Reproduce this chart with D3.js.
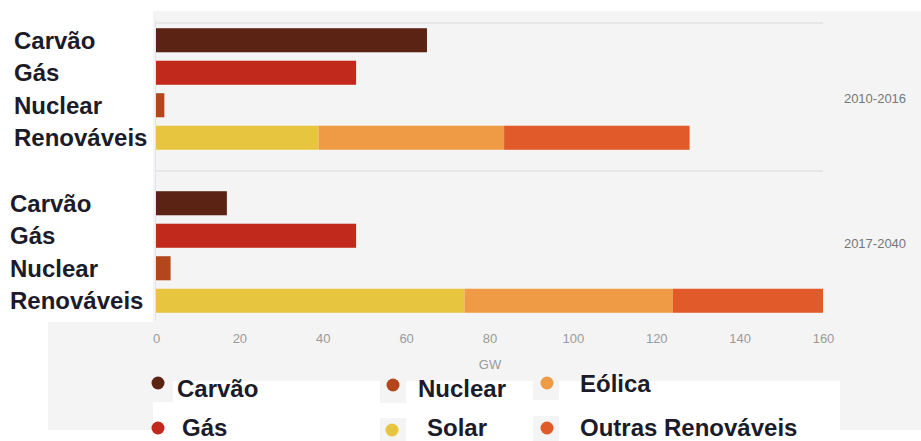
<!DOCTYPE html>
<html><head><meta charset="utf-8">
<script src="https://cdn.jsdelivr.net/npm/d3@7"></script>
<style>body{margin:0;background:#fff}svg{display:block}</style>
</head><body>
<svg id="c" width="921" height="441"></svg>
<script>
const periods = ["2010-2016", "2017-2040"];
const categories = ["Carvão", "Gás", "Nuclear", "Renováveis"];
const carvao = [65, 17];
const gas = [48, 48];
const nuclear = [2, 3.5];
const solar = [39, 74];
const eolica = [44.5, 50];
const outras = [44.5, 36];
const ticks = [0, 20, 40, 60, 80, 100, 120, 140, 160];
const legendNames = ["Carvão", "Gás", "Nuclear", "Solar", "Eólica", "Outras Renováveis"];
const colors = {
  "Carvão": "#5a2314", "Gás": "#c0291b", "Nuclear": "#b4461c",
  "Solar": "#e8c53f", "Eólica": "#ef9b46", "Outras Renováveis": "#e15a29"
};

const svg = d3.select("#c");
const labelFont = "'Liberation Sans', Arial, sans-serif";

// backgrounds
svg.append("rect").attr("x", 147).attr("y", 11).attr("width", 774).attr("height", 419).attr("fill", "#f4f4f4");
svg.append("rect").attr("x", 48).attr("y", 322).attr("width", 110).attr("height", 108).attr("fill", "#f4f4f4");
svg.append("rect").attr("x", 0).attr("y", 0).attr("width", 153).attr("height", 322).attr("fill", "#fff");
// legend white area
svg.append("rect").attr("x", 173).attr("y", 381).attr("width", 667).attr("height", 60).attr("fill", "#fff");
svg.append("rect").attr("x", 153).attr("y", 402).attr("width", 20).attr("height", 39).attr("fill", "#fff");
[[380, 377], [533, 374], [380, 418], [533, 416]].forEach(p =>
  svg.append("rect").attr("x", p[0]).attr("y", p[1]).attr("width", 26).attr("height", 26).attr("fill", "#f4f4f4"));

const x = d3.scaleLinear().domain([0, 160]).range([156, 823]);
const groupTop = d3.scaleOrdinal().domain(periods).range([24, 187]);

// grid lines
[23, 171].forEach(gy => svg.append("line").attr("x1", 156).attr("x2", 823).attr("y1", gy).attr("y2", gy)
  .attr("stroke", "#e6e6e6").attr("stroke-width", 2));
svg.append("line").attr("x1", 155.5).attr("x2", 155.5).attr("y1", 20).attr("y2", 320)
  .attr("stroke", "#dfe4ee").attr("stroke-width", 1);

const single = {"Carvão": carvao, "Gás": gas, "Nuclear": nuclear};
const stackKeys = ["Solar", "Eólica", "Outras Renováveis"];
const stackData = periods.map((p, i) => ({period: p, "Solar": solar[i], "Eólica": eolica[i], "Outras Renováveis": outras[i]}));
const stacked = d3.stack().keys(stackKeys)(stackData);

periods.forEach((p, i) => {
  const y0 = groupTop(p);
  const y = d3.scaleBand().domain(categories).range([y0, y0 + 130]).paddingInner(0.26).paddingOuter(0.13);
  const g = svg.append("g");
  ["Carvão", "Gás", "Nuclear"].forEach(c => {
    g.append("rect").attr("x", x(0)).attr("y", y(c)).attr("width", x(single[c][i]) - x(0))
      .attr("height", y.bandwidth()).attr("fill", colors[c]);
  });
  stacked.forEach(s => {
    const d = s[i];
    g.append("rect").attr("x", x(d[0])).attr("y", y("Renováveis")).attr("width", x(d[1]) - x(d[0]))
      .attr("height", y.bandwidth()).attr("fill", colors[s.key]);
  });
  categories.forEach(c => {
    svg.append("text").attr("x", i === 0 ? 14 : 10).attr("y", y(c) + y.bandwidth() / 2 + 8.5)
      .attr("font-family", labelFont).attr("font-weight", "bold").attr("font-size", 24)
      .attr("fill", "#1b1b2a").text(c);
  });
  svg.append("text").attr("x", 875).attr("y", y0 + (i === 0 ? 79 : 61)).attr("text-anchor", "middle")
    .attr("font-family", labelFont).attr("font-size", 13).attr("fill", "#777").text(p);
});

// x axis
const ax = svg.append("g").attr("transform", "translate(0,343)")
  .call(d3.axisBottom(x).tickValues(ticks).tickSize(0).tickPadding(0));
ax.select(".domain").remove();
ax.selectAll("text").attr("font-family", labelFont).attr("font-size", 13).attr("fill", "#9a9a9a").attr("dy", 0);
svg.append("text").attr("x", 490).attr("y", 369).attr("text-anchor", "middle")
  .attr("font-family", labelFont).attr("font-size", 13).attr("fill", "#9a9a9a").text("GW");

// legend
const legPos = {
  "Carvão": [158, 383, 177, 397], "Gás": [158, 428, 182, 436],
  "Nuclear": [393, 385, 418, 397], "Solar": [392, 430, 427, 436],
  "Eólica": [547, 383, 580, 392], "Outras Renováveis": [547, 428, 580, 436]
};
legendNames.forEach(n => {
  const q = legPos[n];
  svg.append("circle").attr("cx", q[0]).attr("cy", q[1]).attr("r", 6.5).attr("fill", colors[n]);
  svg.append("text").attr("x", q[2]).attr("y", q[3]).attr("font-family", labelFont)
    .attr("font-weight", "bold").attr("font-size", 24).attr("fill", "#1b1b2a").text(n);
});
</script>
</body></html>
